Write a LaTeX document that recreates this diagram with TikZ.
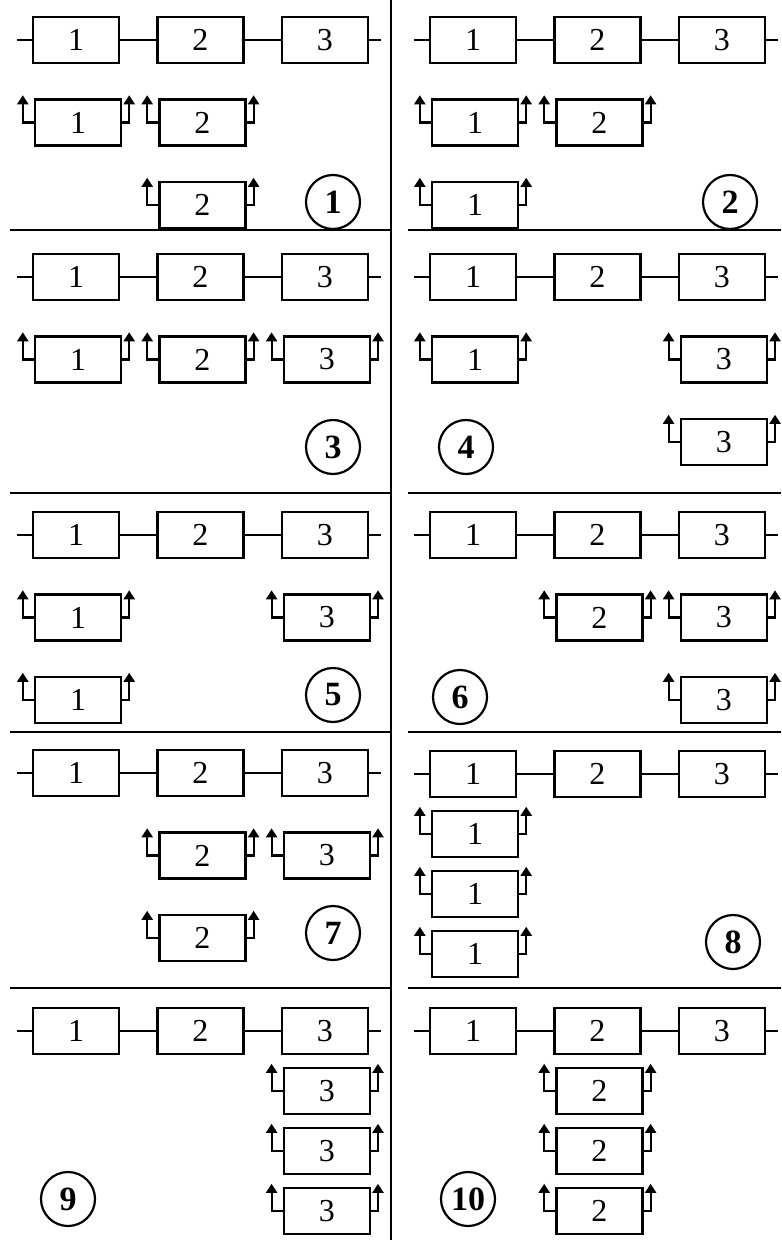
\documentclass[tikz,border=0pt]{standalone}
\usepackage{fontspec}
\setmainfont{Liberation Serif}
\usepackage{tikz}
\usetikzlibrary{arrows.meta,positioning,calc}

\begin{document}
\begin{tikzpicture}[
  x=0.5pt, y=-0.5pt,
  cell/.style={draw, line width=1.2pt, minimum width=43pt, minimum height=23pt, inner sep=0pt, font=\fontsize{16}{16}\selectfont},
  lnk/.style={line width=1pt},
  tap/.style={line width=1.1pt, -{Triangle[width=5.5pt,length=4.5pt]}},
  tag/.style={draw, circle, line width=1.1pt, minimum size=27pt, inner sep=0pt, font=\fontsize{17}{17}\selectfont\bfseries},
  rule/.style={line width=1.4pt}
]
\useasboundingbox (0,0) rectangle (781,1240);

\draw[rule] (391,0) -- (391,1240);
\foreach \y in {230,493,732,988} {
  \draw[rule] (10,\y) -- (391,\y);
  \draw[rule] (408,\y) -- (781,\y);
}

\foreach \p/\x/\y in {1/0/40, 2/397/40, 3/0/277, 4/397/277, 5/0/535, 6/397/535, 7/0/773, 8/397/774, 9/0/1031, 10/397/1031} {
  \node[cell] (c\p-1) at (\x+76,\y) {1};
  \node[cell, right=18pt of c\p-1] (c\p-2) {2};
  \node[cell, right=18pt of c\p-2] (c\p-3) {3};
  \draw[lnk] ([xshift=-7.5pt]c\p-1.west) -- (c\p-1) -- (c\p-2) -- (c\p-3) -- ([xshift=6pt]c\p-3.east);
}

\foreach \p/\k/\r in {1/1/1, 1/2/1, 1/2/2, 2/1/1, 2/2/1, 2/1/2, 3/1/1, 3/2/1, 3/3/1,
    4/1/1, 4/3/1, 4/3/2, 5/1/1, 5/3/1, 5/1/2, 6/2/1, 6/3/1, 6/3/2, 7/2/1, 7/3/1, 7/2/2,
    8/1/1, 8/1/2, 8/1/3, 9/3/1, 9/3/2, 9/3/3, 10/2/1, 10/2/2, 10/2/3} {
  \pgfmathsetmacro{\d}{(\p<8 ? 82.5 : 60)*\r}
  \node[cell] (r\p-\k-\r) at ($(c\p-\k)+(2,\d)$) {\k};
  \draw[tap] (r\p-\k-\r.west) -| ([xshift=-5.5pt,yshift=1.5pt]r\p-\k-\r.north west);
  \draw[tap] (r\p-\k-\r.east) -| ([xshift=3.5pt,yshift=1.5pt]r\p-\k-\r.north east);
}

\foreach \p/\x/\y in {1/333/202, 2/730/202, 3/333/447, 4/466/447, 5/333/695, 6/460/697, 7/333/933, 8/733/942, 9/68/1199, 10/468/1199}
  \node[tag] (n\p) at (\x,\y) {\p};
\end{tikzpicture}
\end{document}
